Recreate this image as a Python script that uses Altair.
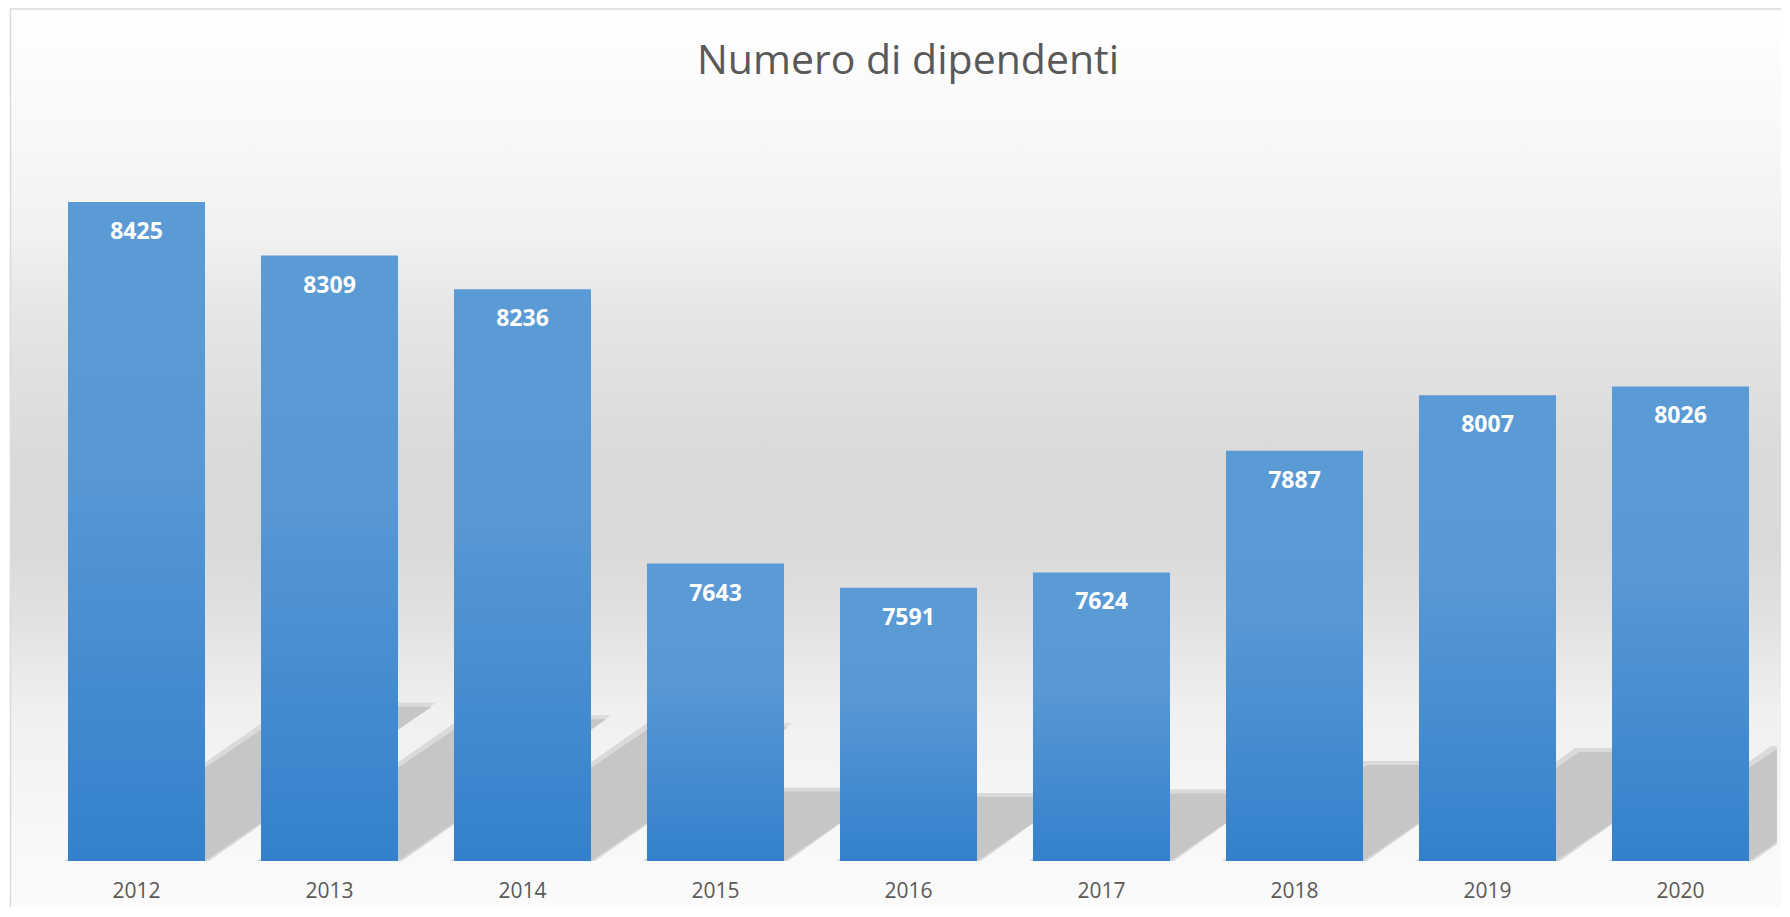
import altair as alt
import pandas as pd

# ---- data ----
years = ["2012", "2013", "2014", "2015", "2016", "2017", "2018", "2019", "2020"]
employees = [8425, 8309, 8236, 7643, 7591, 7624, 7887, 8007, 8026]
title_text = "Numero di dipendenti"

# ---- layout / style ----
W, H = 1737, 740
Y_MIN, Y_MAX = 7000, 8600
PAD_INNER = 0.29
PAD_OUTER = PAD_INNER / 2
FONT = "Open Sans"
GREY_TEXT = "#595959"

# shadow geometry (style): rise factor and slope of the floor shadow
K_RISE = 0.234
SLOPE = 0.68
FEATHER_PX = 4
px_per_unit = H / (Y_MAX - Y_MIN)
step_px = W / len(years)

df = pd.DataFrame({"year": years, "value": employees})


def shadow_table(feather_px):
    fy = feather_px / px_per_unit
    fx = feather_px / step_px
    rows = []
    for i, (yr, v) in enumerate(zip(years, employees)):
        rise = K_RISE * (v - Y_MIN)
        shift = rise * px_per_unit / SLOPE / step_px
        xl, xr = i + PAD_OUTER, i + 1 - PAD_OUTER
        rows.append({"year": yr, "y": Y_MIN, "xl": xl - fx, "xr": xr + fx})
        rows.append({"year": yr, "y": Y_MIN + rise + fy,
                     "xl": xl + shift - fx, "xr": xr + shift + fx})
    return pd.DataFrame(rows)


one = pd.DataFrame({"a": [0]})

yscale = alt.Scale(domain=[Y_MIN, Y_MAX], zero=False, nice=False)
xband = alt.Scale(paddingInner=PAD_INNER, paddingOuter=PAD_OUTER)
xlin = alt.Scale(domain=[0, len(years)], nice=False, zero=False)

bg_gradient = alt.Gradient(
    gradient="linear", x1=0, x2=0, y1=0, y2=1,
    stops=[
        alt.GradientStop(offset=0.0, color="#FFFFFF"),
        alt.GradientStop(offset=0.12, color="#F9F9F9"),
        alt.GradientStop(offset=0.25, color="#F1F1F1"),
        alt.GradientStop(offset=0.33, color="#E6E6E6"),
        alt.GradientStop(offset=0.49, color="#DADADA"),
        alt.GradientStop(offset=0.59, color="#D9D9D9"),
        alt.GradientStop(offset=0.68, color="#E3E3E3"),
        alt.GradientStop(offset=0.77, color="#F0F0F0"),
        alt.GradientStop(offset=0.86, color="#F5F5F5"),
        alt.GradientStop(offset=0.95, color="#FAFAFA"),
        alt.GradientStop(offset=1.0, color="#FBFBFB"),
    ],
)

background = alt.Chart(one).mark_rect(
    fill=bg_gradient, stroke="#D9D9D9", strokeWidth=1.5
).encode(
    x=alt.value(-29.5), x2=alt.value(W + 10),
    y=alt.value(-112), y2=alt.value(H + 60),
)


def shadow_layer(table, color):
    return alt.Chart(table).mark_area(
        orient="horizontal", color=color, clip=True, interpolate="linear"
    ).encode(
        y=alt.Y("y:Q", scale=yscale, axis=None),
        x=alt.X("xl:Q", scale=xlin, axis=None),
        x2="xr:Q",
        detail="year:N",
    )


shadow_halo = shadow_layer(shadow_table(FEATHER_PX), "#DADADA")
shadow_core = shadow_layer(shadow_table(0), "#C6C6C6")

bar_gradient = alt.Gradient(
    gradient="linear", x1=0, x2=0, y1=0, y2=1,
    stops=[
        alt.GradientStop(offset=0.0, color="#5B9BD5"),
        alt.GradientStop(offset=0.4, color="#5898D4"),
        alt.GradientStop(offset=1.0, color="#3381CB"),
    ],
)

bars = alt.Chart(df).mark_bar(color=bar_gradient).encode(
    x=alt.X(
        "year:N", scale=xband, sort=years,
        axis=alt.Axis(
            title=None, labelAngle=0, labelFont=FONT, labelFontSize=21,
            labelColor=GREY_TEXT, domain=False, ticks=False, labelPadding=19,
            zindex=1,
        ),
    ),
    y=alt.Y("value:Q", scale=yscale, axis=None),
    y2=alt.datum(Y_MIN),
)

labels = alt.Chart(df).mark_text(
    color="white", font=FONT, fontWeight="bold", fontSize=23,
    baseline="middle", align="center", dy=30,
).encode(
    x=alt.X("year:N", scale=xband, sort=years, axis=None),
    y=alt.Y("value:Q", scale=yscale, axis=None),
    text=alt.Text("value:Q", format="d"),
)

title = alt.Chart(one).mark_text(
    text=title_text, font=FONT, fontSize=41, fontWeight="normal",
    color=GREY_TEXT, align="center", baseline="middle",
).encode(x=alt.value(868), y=alt.value(-59))

chart = alt.layer(
    background, shadow_halo, shadow_core, bars, labels, title
).resolve_scale(
    x="independent"
).properties(
    width=W, height=H,
    autosize=alt.AutoSizeParams(type="none"),
    padding={"left": 32, "top": 113, "right": 4, "bottom": 46},
).configure_view(stroke=None)

chart.save("out.html", embed_options={"renderer": "svg", "actions": False})
